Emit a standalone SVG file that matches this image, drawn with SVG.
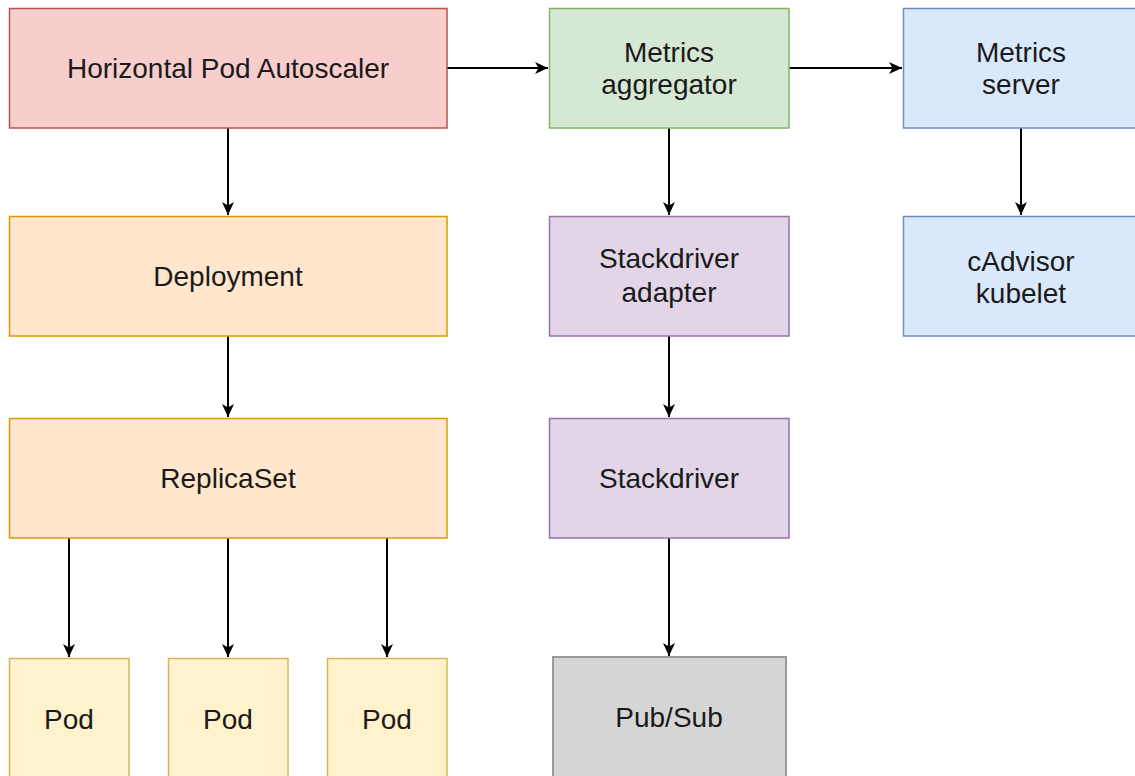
<svg xmlns="http://www.w3.org/2000/svg" width="1135" height="776" viewBox="0 0 1135 776">
<style>
text{font-family:"Liberation Sans",Arial,Helvetica,sans-serif;font-size:28px;fill:#1a1a1a;text-anchor:middle}
rect{stroke-width:1.5}
.red{fill:#f8cecc;stroke:#b85450}
.green{fill:#d5e8d4;stroke:#82b366}
.blue{fill:#dae8fc;stroke:#6c8ebf}
.orange{fill:#ffe6cc;stroke:#d79b00}
.yellow{fill:#fff2cc;stroke:#d6b656}
.purple{fill:#e1d5e7;stroke:#9673a6}
.gray{fill:#d5d5d5;stroke:#9a9a9a;stroke-width:2}
.edge{fill:none;stroke:#000;stroke-width:2;marker-end:url(#arr)}
</style>
<defs>
<marker id="arr" viewBox="0 0 14 14" refX="13" refY="7" markerWidth="14" markerHeight="14" markerUnits="userSpaceOnUse" orient="auto">
<path d="M0,1 L13,7 L0,13 L3.5,7 Z" fill="#000"/>
</marker>
</defs>
<rect width="1135" height="776" fill="#fff"/>
<g id="connectors">
<path class="edge" d="M447,68 H548"/>
<path class="edge" d="M789,68 H902"/>
<path class="edge" d="M228,128 V215"/>
<path class="edge" d="M228,336 V417"/>
<path class="edge" d="M69,538 V657"/>
<path class="edge" d="M228,538 V657"/>
<path class="edge" d="M387,538 V657"/>
<path class="edge" d="M669,128 V215"/>
<path class="edge" d="M669,336 V417"/>
<path class="edge" d="M669,538 V656"/>
<path class="edge" d="M1021,128 V215"/>
</g>
<g id="hpa"><rect class="red" x="9.5" y="8.5" width="437.5" height="119.5"/><text x="228" y="78">Horizontal Pod Autoscaler</text></g>
<g id="metrics-aggregator"><rect class="green" x="549.5" y="8.5" width="239.5" height="119.5"/><text x="669" y="62">Metrics</text><text x="669" y="94">aggregator</text></g>
<g id="metrics-server"><rect class="blue" x="903.5" y="8.5" width="240" height="119.5"/><text x="1021" y="62">Metrics</text><text x="1021" y="94">server</text></g>
<g id="deployment"><rect class="orange" x="9.5" y="216.5" width="437.5" height="119.5"/><text x="228" y="286">Deployment</text></g>
<g id="stackdriver-adapter"><rect class="purple" x="549.5" y="216.5" width="239.5" height="119.5"/><text x="669" y="268">Stackdriver</text><text x="669" y="302">adapter</text></g>
<g id="cadvisor"><rect class="blue" x="903.5" y="216.5" width="240" height="119.5"/><text x="1021" y="271">cAdvisor</text><text x="1021" y="303">kubelet</text></g>
<g id="replicaset"><rect class="orange" x="9.5" y="418.5" width="437.5" height="119.5"/><text x="228" y="488">ReplicaSet</text></g>
<g id="stackdriver"><rect class="purple" x="549.5" y="418.5" width="239.5" height="119.5"/><text x="669" y="488">Stackdriver</text></g>
<g id="pod1"><rect class="yellow" x="9.5" y="658.5" width="119.5" height="125"/><text x="69" y="729">Pod</text></g>
<g id="pod2"><rect class="yellow" x="168.5" y="658.5" width="119.5" height="125"/><text x="228" y="729">Pod</text></g>
<g id="pod3"><rect class="yellow" x="327.5" y="658.5" width="119.5" height="125"/><text x="387" y="729">Pod</text></g>
<g id="pubsub"><rect class="gray" x="553" y="657" width="233" height="125"/><text x="669" y="727">Pub/Sub</text></g>
</svg>
